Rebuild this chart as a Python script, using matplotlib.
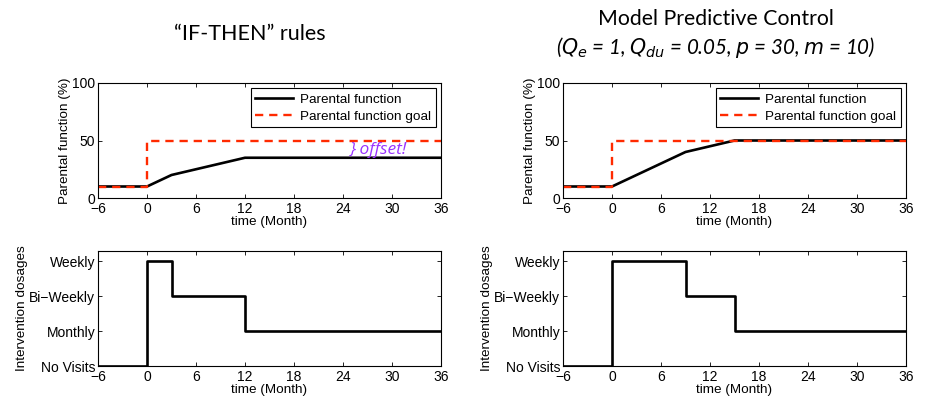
import matplotlib.pyplot as plt
import numpy as np

plt.rcParams['font.family'] = ['Liberation Sans', 'DejaVu Sans']

# parental function, IF-THEN rules
t_if = [-6, 0, 3, 12, 36]
pf_if = [10, 10, 20, 35, 35]
# parental function, MPC
t_mpc = [-6, 0, 9, 15, 36]
pf_mpc = [10, 10, 40, 50, 50]
# goal
t_goal = [-6, 0, 0, 36]
goal = [10, 10, 50, 50]

# intervention dosages (step, 'post')
dose_t_if = [-6, 0, 3, 12, 36]
dose_if = [0, 3, 2, 1, 1]
dose_t_mpc = [-6, 0, 9, 15, 36]
dose_mpc = [0, 3, 2, 1, 1]
dose_labels = ['No Visits', 'Monthly', 'Bi\u2212Weekly', 'Weekly']

xticks = [-6, 0, 6, 12, 18, 24, 30, 36]

fig = plt.figure(figsize=(9.3, 4.09), dpi=100)
W, H = 930., 409.

def ax_at(x0, y0, x1, y1):
    return fig.add_axes([x0 / W, 1 - y1 / H, (x1 - x0) / W, (y1 - y0) / H])

def style(ax):
    ax.tick_params(direction='in', top=True, right=True, labelsize=10,
                   length=3, width=0.6, pad=2)
    ax.tick_params(axis='x', pad=3)
    for s in ax.spines.values():
        s.set_linewidth(0.8)
    ax.set_xlim(-6, 36)
    ax.set_xticks(xticks)
    ax.set_xlabel('time (Month)', fontsize=9.7, labelpad=0)

panels = [(98, t_if, pf_if, dose_t_if, dose_if),
          (563, t_mpc, pf_mpc, dose_t_mpc, dose_mpc)]

for i, (x0, tt, pf, dt, dd) in enumerate(panels):
    ax = ax_at(x0, 83, x0 + 343, 198)
    ax.plot(tt, pf, color='black', lw=1.9, label='Parental function')
    ax.plot(t_goal, goal, color='#ff2a00', lw=1.7, ls=(0, (3.5, 2.5)),
            label='Parental function goal')
    ax.set_ylim(0, 100)
    ax.set_yticks([0, 50, 100])
    style(ax)
    ax.set_ylabel('Parental function (%)', fontsize=9.7, labelpad=1)
    leg = ax.legend(loc='upper right', fontsize=9.7, fancybox=False,
                    edgecolor='black', framealpha=1, borderpad=0.35,
                    labelspacing=0.35, handlelength=2.8, handletextpad=0.5,
                    borderaxespad=0.4)
    leg.get_frame().set_linewidth(0.8)
    if i == 0:
        ax.text(24.8, 42, '} offset!', color='#9933ff', fontsize=12.5,
                style='italic', family='Open Sans', va='center')

    axb = ax_at(x0, 251, x0 + 343, 366)
    axb.step(dt, dd, where='post', color='black', lw=1.9)
    axb.set_ylim(0, 3.3)
    axb.set_yticks([0, 1, 2, 3])
    axb.set_yticklabels(dose_labels)
    style(axb)
    axb.set_ylabel('Intervention dosages', fontsize=9.7, labelpad=1)

fig.text(250 / W, 1 - 34 / H, '\u201cIF-THEN\u201d rules', fontsize=15.5,
         family='Lato', ha='center', va='center')
fig.text(716 / W, 1 - 19 / H, 'Model Predictive Control', fontsize=15.3,
         family='Lato', ha='center', va='center')
fig.text(716 / W, 1 - 48 / H,
         r'($Q_e$ = 1, $Q_{du}$ = 0.05, $p$ = 30, $m$ = 10)',
         fontsize=14.8, family='Lato', style='italic', ha='center', va='center')

fig.savefig('out.png', dpi=100)
